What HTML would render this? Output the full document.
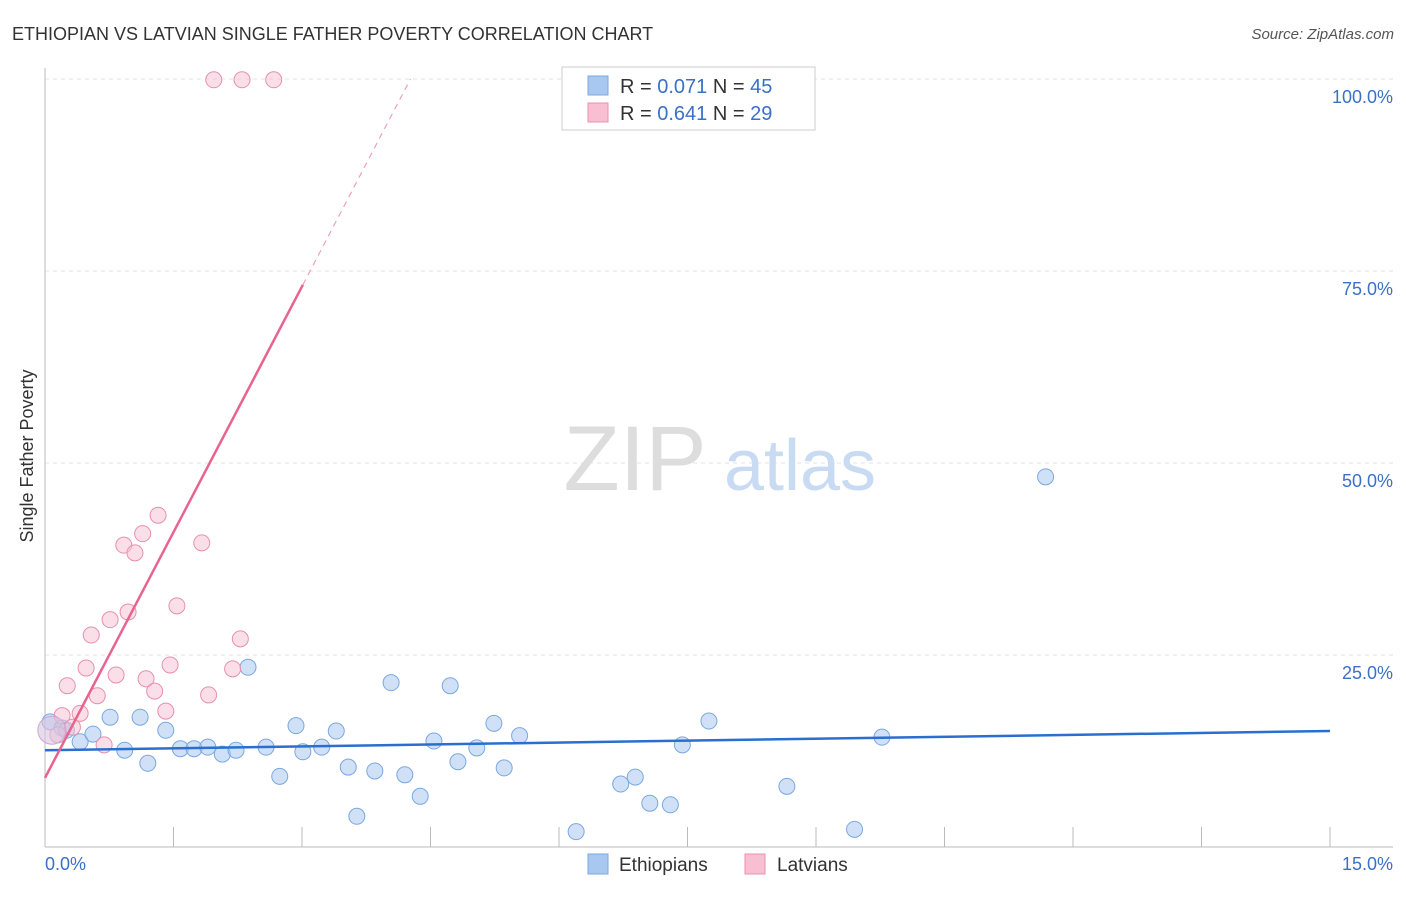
<!DOCTYPE html>
<html><head><meta charset="utf-8"><style>
body{margin:0;background:#fff;font-family:"Liberation Sans",sans-serif;}
svg text{font-family:"Liberation Sans",sans-serif;}
</style></head><body>
<svg id="c" width="1406" height="892" xmlns="http://www.w3.org/2000/svg">
<text x="12" y="40" font-size="18" fill="#333">ETHIOPIAN VS LATVIAN SINGLE FATHER POVERTY CORRELATION CHART</text>
<text x="1394" y="39" font-size="15" fill="#555" text-anchor="end" font-style="italic">Source: ZipAtlas.com</text>
<text x="33" y="456" font-size="18" fill="#333" text-anchor="middle" transform="rotate(-90 33 456)">Single Father Poverty</text>
<g id="grid"></g>
<text x="635" y="490" font-size="92" fill="#ddd" font-family="Liberation Serif" text-anchor="middle">ZIP</text>
<text x="800" y="490" font-size="72" fill="#c9dbf3" text-anchor="middle">atlas</text>
<g id="marks"></g>
<g>
<rect x="562" y="67" width="253" height="63" fill="#fff" stroke="#ccc"/>
<rect x="588" y="76" width="20" height="19" fill="#a9c8f0" stroke="#7aa8e0"/>
<rect x="588" y="103" width="20" height="19" fill="#f7bfd1" stroke="#e890ab"/>
<text x="620" y="93" font-size="20" fill="#333">R = <tspan fill="#3a70c8">0.071</tspan>   N = <tspan fill="#3a70c8">45</tspan></text>
<text x="620" y="120" font-size="20" fill="#333">R = <tspan fill="#3a70c8">0.641</tspan>   N = <tspan fill="#3a70c8">29</tspan></text>
</g>
<g>
<rect x="588" y="854" width="20" height="20" fill="#a9c8f0" stroke="#7aa8e0"/>
<text x="619" y="871" font-size="19" fill="#333">Ethiopians</text>
<rect x="745" y="854" width="20" height="20" fill="#f7bfd1" stroke="#e890ab"/>
<text x="777" y="871" font-size="19" fill="#333">Latvians</text>
</g>
</svg>
<script>
const xTicks=[0,1.5,3,4.5,6,7.5,9,10.5,12,13.5,15];
const yTicks=[25,50,75,100];
const yTickLabels=["25.0%","50.0%","75.0%","100.0%"];
const ethX=[0.06,0.20,0.25,0.41,0.56,0.76,0.93,1.11,1.20,1.41,1.58,1.74,1.90,2.07,2.23,2.37,2.58,2.74,2.93,3.01,3.23,3.40,3.54,3.64,3.85,4.04,4.20,4.38,4.54,4.73,4.82,5.04,5.24,5.36,5.54,6.20,6.72,6.89,7.06,7.30,7.44,7.75,8.66,9.45,9.77,11.68];
const ethY=[16.3,15.5,15.2,13.7,14.7,16.9,12.6,16.9,10.9,15.2,12.8,12.8,13.0,12.1,12.6,23.4,13.0,9.2,15.8,12.4,13.0,15.1,10.4,4.0,9.9,21.4,9.4,6.6,13.8,21.0,11.1,12.9,16.1,10.3,14.5,2.0,8.2,9.1,5.7,5.5,13.3,16.4,7.9,2.3,14.3,48.2];
const latX=[0.15,0.20,0.26,0.32,0.41,0.48,0.54,0.61,0.69,0.76,0.83,0.92,0.97,1.05,1.14,1.18,1.28,1.32,1.41,1.46,1.54,1.83,1.91,1.97,2.19,2.28,2.30,2.67];
const latY=[14.6,17.1,21.0,15.6,17.4,23.3,27.6,19.7,13.3,29.6,22.4,39.3,30.6,38.3,40.8,21.9,20.3,43.2,17.7,23.7,31.4,39.6,19.8,99.9,23.2,27.1,99.9,99.9];
const ethTrend=[12.6,15.1];
const latTrend=[9.0,73.2];
const NS='http://www.w3.org/2000/svg';
const X=v=>45+v*(1330-45)/15, Y=v=>847-v*7.68;
function mk(p,t,a){const e=document.createElementNS(NS,t);for(const k in a)e.setAttribute(k,a[k]);p.appendChild(e);return e;}
const g=document.getElementById('grid'),m=document.getElementById('marks');
yTicks.forEach((v,i)=>{
 const l=mk(g,'line',{x1:45,x2:1393,y1:Y(v),y2:Y(v),stroke:'#e3e3e3','stroke-dasharray':'4,4'});
 
 
 const t=mk(g,'text',{x:1393,y:Y(v)+24,'font-size':18,fill:'#3a70c8','text-anchor':'end'});t.textContent=yTickLabels[i];
 
 
});
const ax=mk(g,'line',{x1:45,x2:45,y1:68,y2:847,stroke:'#bbb'});


const bx=mk(g,'line',{x1:45,x2:1393,y1:847,y2:847,stroke:'#bbb'});


xTicks.forEach(v=>{const t=mk(g,'line',{x1:X(v),x2:X(v),y1:827,y2:847,stroke:'#bbb'});
 
 });
const l0=mk(g,'text',{x:45,y:870,'font-size':18,fill:'#3a70c8'});l0.textContent=xTicks[0].toFixed(1)+'%';


const l1=mk(g,'text',{x:1393,y:870,'font-size':18,fill:'#3a70c8','text-anchor':'end'});l1.textContent=xTicks[xTicks.length-1].toFixed(1)+'%';


ethX.forEach((x,i)=>{const c=mk(m,'circle',{cx:X(x),cy:Y(ethY[i]),r:8,fill:'#a9c8f0','fill-opacity':0.55,stroke:'#7aa8e0'});
 
 });
latX.forEach((x,i)=>{const c=mk(m,'circle',{cx:X(x),cy:Y(latY[i]),r:8,fill:'#f7bfd1','fill-opacity':0.5,stroke:'#e890ab'});
 
 });
const big=mk(m,'circle',{cx:X(0.08),cy:Y(15.2),r:14,fill:'#d8c3e0','fill-opacity':0.6,stroke:'#c8a8d8'});


const et=mk(m,'line',{x1:X(0),y1:Y(ethTrend[0]),x2:X(15),y2:Y(ethTrend[1]),stroke:'#2a6fcf','stroke-width':2.5});


const slope=(latTrend[1]-latTrend[0])/3.01, xEnd=(100-latTrend[0])/slope;
const lt=mk(m,'line',{x1:X(0),y1:Y(latTrend[0]),x2:X(3.01),y2:Y(latTrend[1]),stroke:'#e8648f','stroke-width':2.5});


const ld=mk(m,'line',{x1:X(3.01),y1:Y(latTrend[1]),x2:X(xEnd),y2:Y(100),stroke:'#f0a0b8','stroke-width':1.2,'stroke-dasharray':'6,5'});


</script>
</body></html>
